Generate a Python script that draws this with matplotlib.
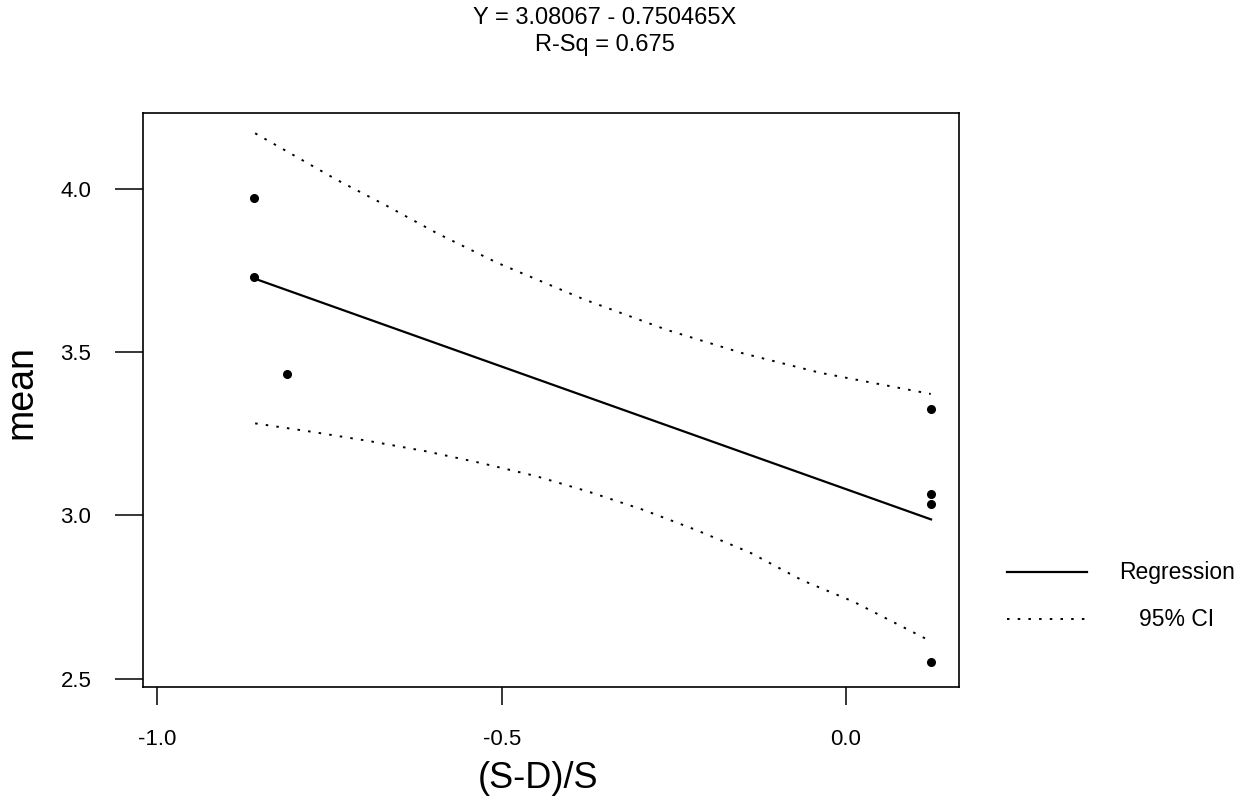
import matplotlib
matplotlib.use("Agg")
import matplotlib.pyplot as plt
from matplotlib.lines import Line2D

plt.rcParams["font.family"] = ["Liberation Sans", "DejaVu Sans"]

# observed points
x_obs = [-0.860, -0.860, -0.812, 0.1234, 0.1234, 0.1234, 0.1234]
y_obs = [3.971, 3.730, 3.433, 3.326, 3.065, 3.035, 2.552]

# fitted line end points
reg_x = [-0.860, 0.1234]
reg_y = [3.726, 2.988]

# 95% CI bands
ci_up_x = [-0.858, -0.739, -0.667, -0.594, -0.507, -0.381, -0.260, -0.149, -0.038, 0.123]
ci_up_y = [4.170, 4.027, 3.948, 3.864, 3.774, 3.662, 3.568, 3.496, 3.437, 3.372]
ci_lo_x = [-0.858, -0.775, -0.693, -0.611, -0.531, -0.451, -0.374, -0.294, -0.217,
           -0.139, -0.064, 0.011, 0.123]
ci_lo_y = [3.282, 3.256, 3.228, 3.197, 3.161, 3.121, 3.073, 3.017, 2.955,
           2.886, 2.802, 2.736, 2.615]

title_lines = ["Y = 3.08067 - 0.750465X", "R-Sq = 0.675"]
x_ticks = [-1.0, -0.5, 0.0]
y_ticks = [2.5, 3.0, 3.5, 4.0]

W, H = 1244, 800
fig = plt.figure(figsize=(W / 100, H / 100), dpi=100)
ax = fig.add_axes([142.7 / W, 1 - 687 / H, (959 - 142.7) / W, (687 - 112.7) / H])

ci_style = dict(color="black", lw=1.4, linestyle=(0, (1.3, 4.2)))
ax.plot(ci_up_x, ci_up_y, **ci_style)
ax.plot(ci_lo_x, ci_lo_y, **ci_style)
ax.plot(reg_x, reg_y, color="black", lw=1.6)
ax.plot(x_obs, y_obs, "o", color="black", markersize=5.5)

ax.set_xlim(-1.0213, 0.164)
ax.set_ylim(2.475, 4.233)
ax.set_xticks(x_ticks)
ax.set_xticklabels([f"{v:.1f}" for v in x_ticks])
ax.set_yticks(y_ticks)
ax.set_yticklabels([f"{v:.1f}" for v in y_ticks])
ax.tick_params(axis="x", direction="out", length=13, width=1.1, pad=17, labelsize=16)
ax.tick_params(axis="y", direction="out", length=20, width=1.1, pad=17, labelsize=16)
for s in ax.spines.values():
    s.set_linewidth(1.2)

fig.text(538 / W, 1 - 779 / H, "(S-D)/S", ha="center", va="center", fontsize=26)
fig.text(21 / W, 1 - 392 / H, "mean", ha="center", va="center", rotation=90, fontsize=27)

fig.text(605 / W, 1 - 18 / H, title_lines[0], ha="center", va="center", fontsize=17)
fig.text(605 / W, 1 - 45 / H, title_lines[1], ha="center", va="center", fontsize=17)

# legend drawn outside the axes
leg_ax = fig.add_axes([0, 0, 1, 1], facecolor="none")
leg_ax.set_xlim(0, W)
leg_ax.set_ylim(H, 0)
leg_ax.axis("off")
leg_ax.add_line(Line2D([1007, 1087], [572, 572], color="black", lw=1.6))
leg_ax.add_line(Line2D([1007, 1087], [619, 619], **ci_style))
leg_ax.text(1177, 572, "Regression", ha="center", va="center", fontsize=16.5)
leg_ax.text(1177, 619, "95% CI", ha="center", va="center", fontsize=16.5)

fig.savefig("out.png", dpi=100, facecolor="white")
